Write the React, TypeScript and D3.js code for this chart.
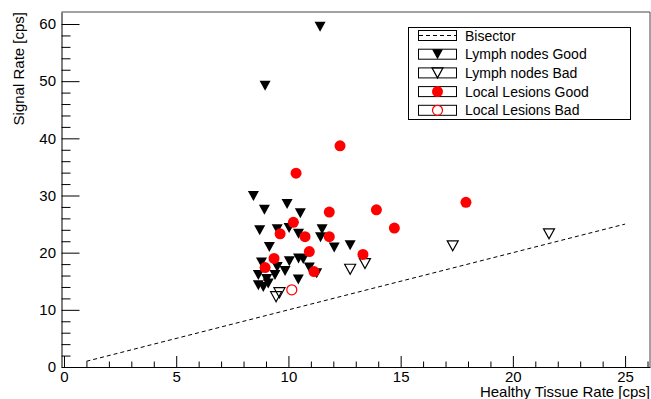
import React, { useEffect, useRef } from 'react';
import * as d3 from 'd3';

// Lymph nodes Good (filled down triangles)
const lymphGoodX = [11.41, 8.96, 8.44, 8.93, 9.94, 10.53, 8.72, 9.5, 10.03, 10.45, 11.5, 11.43, 12.04, 12.75, 9.15,
  10.04, 10.45, 10.66, 8.8, 9.5, 9.85, 10.93, 11.26, 8.66, 9.4, 9.03, 8.66, 9.1, 8.88, 10.44];
const lymphGoodY = [59.5, 49.2, 29.9, 27.5, 28.5, 26.9, 23.9, 24.1, 24.3, 23.3, 24.1, 22.7, 20.9, 21.3, 21.0,
  18.5, 19.0, 18.9, 18.3, 17.5, 16.8, 17.4, 16.4, 16.1, 16.1, 15.4, 14.3, 14.6, 14.0, 15.3];

// Lymph nodes Bad (open down triangles)
const lymphBadX = [9.45, 9.6, 12.75, 13.41, 17.32, 21.61];
const lymphBadY = [12.3, 13.0, 17.1, 18.1, 21.2, 23.3];

// Local Lesions Good (filled red circles)
const lesionGoodX = [12.3, 10.34, 11.82, 13.92, 14.72, 17.91, 10.22, 9.63, 10.74, 11.82, 10.93, 13.32, 9.36, 8.96, 11.14];
const lesionGoodY = [38.7, 33.9, 27.1, 27.5, 24.3, 28.8, 25.3, 23.3, 22.8, 22.8, 20.2, 19.7, 19.0, 17.4, 16.7];

// Local Lesions Bad (open red circles)
const lesionBadX = [10.15];
const lesionBadY = [13.5];

// Bisector
const bisectorX = [1, 25];
const bisectorY = [1, 25];

const xMajor = [0, 5, 10, 15, 20, 25];
const yMajor = [0, 10, 20, 30, 40, 50, 60];

const legendLabels = ['Bisector', 'Lymph nodes Good', 'Lymph nodes Bad', 'Local Lesions Good', 'Local Lesions Bad'];

const W = 651;
const H = 399;
const FONT = '"Liberation Sans", Arial, Helvetica, sans-serif';

const trianglePath = (cx, cy) => {
  const hw = 5.5, h = 5;
  return `M${cx - hw},${cy - h}L${cx + hw},${cy - h}L${cx},${cy + h}Z`;
};

const App = () => {
  const svgRef = useRef(null);

  useEffect(() => {
    const svg = d3.select(svgRef.current);
    svg.selectAll('*').remove();

    const left = 61.5, right = 650, top = 12, bottom = 367;
    const x = d3.scaleLinear().domain([-0.111, 26.11]).range([left, right]);
    const y = d3.scaleLinear().domain([0, 62.1]).range([bottom, top]);

    svg.append('rect').attr('width', W).attr('height', H).attr('fill', '#fff');

    // frame top / right
    svg.append('path')
      .attr('d', `M${left},${top}H${right}V${bottom}`)
      .attr('fill', 'none')
      .attr('stroke', '#444')
      .attr('stroke-width', 1);

    // minor ticks
    const xMinor = d3.range(0, 27, 1).filter((v) => v % 5 !== 0);
    const yMinor = d3.range(0, 62, 2).filter((v) => v % 10 !== 0);

    svg.append('g')
      .attr('transform', `translate(0,${bottom})`)
      .call(d3.axisBottom(x).tickValues(xMinor).tickSize(-5.5).tickSizeOuter(0).tickFormat(() => ''))
      .call((g) => g.select('.domain').remove());

    svg.append('g')
      .attr('transform', `translate(${left},0)`)
      .call(d3.axisLeft(y).tickValues(yMinor).tickSize(-9).tickSizeOuter(0).tickFormat(() => ''))
      .call((g) => g.select('.domain').remove());

    const xAxis = svg.append('g')
      .attr('transform', `translate(0,${bottom})`)
      .call(d3.axisBottom(x).tickValues(xMajor).tickSize(-11).tickSizeOuter(0).tickPadding(4.5));

    const yAxis = svg.append('g')
      .attr('transform', `translate(${left},0)`)
      .call(d3.axisLeft(y).tickValues(yMajor).tickSize(-18).tickSizeOuter(0).tickPadding(5.5));

    [xAxis, yAxis].forEach((g) => {
      g.attr('font-family', FONT).attr('font-size', 15);
      g.selectAll('text').attr('fill', '#000');
      g.selectAll('line').attr('stroke', '#000');
      g.select('.domain').attr('stroke', '#000');
    });

    // axis titles
    svg.append('text')
      .attr('x', right)
      .attr('y', 397)
      .attr('text-anchor', 'end')
      .attr('font-family', FONT)
      .attr('font-size', 15)
      .text('Healthy Tissue Rate [cps]');

    svg.append('text')
      .attr('transform', `translate(24,${top}) rotate(-90)`)
      .attr('text-anchor', 'end')
      .attr('font-family', FONT)
      .attr('font-size', 15)
      .text('Signal Rate [cps]');

    // bisector
    const line = d3.line().x((d) => x(d[0])).y((d) => y(d[1]));
    svg.append('path')
      .datum(d3.zip(bisectorX, bisectorY))
      .attr('d', line)
      .attr('fill', 'none')
      .attr('stroke', '#000')
      .attr('stroke-width', 1)
      .attr('stroke-dasharray', '4,3');

    // Lymph nodes Bad
    svg.append('g').selectAll('path')
      .data(d3.zip(lymphBadX, lymphBadY))
      .join('path')
      .attr('d', (d) => trianglePath(x(d[0]), y(d[1])))
      .attr('fill', 'none')
      .attr('stroke', '#000')
      .attr('stroke-width', 1.2);

    // Lymph nodes Good
    svg.append('g').selectAll('path')
      .data(d3.zip(lymphGoodX, lymphGoodY))
      .join('path')
      .attr('d', (d) => trianglePath(x(d[0]), y(d[1])))
      .attr('fill', '#000');

    // Local Lesions Good
    svg.append('g').selectAll('circle')
      .data(d3.zip(lesionGoodX, lesionGoodY))
      .join('circle')
      .attr('cx', (d) => x(d[0]))
      .attr('cy', (d) => y(d[1]))
      .attr('r', 5.5)
      .attr('fill', '#ff0000');

    // Local Lesions Bad
    svg.append('g').selectAll('circle')
      .data(d3.zip(lesionBadX, lesionBadY))
      .join('circle')
      .attr('cx', (d) => x(d[0]))
      .attr('cy', (d) => y(d[1]))
      .attr('r', 5)
      .attr('fill', 'none')
      .attr('stroke', '#ff0000')
      .attr('stroke-width', 1.2);

    // legend
    const lg = svg.append('g');
    lg.append('rect')
      .attr('x', 408.5).attr('y', 27.5).attr('width', 222).attr('height', 92)
      .attr('fill', '#fff').attr('stroke', '#000').attr('stroke-width', 1);

    const rowY = (i) => 35.5 + i * 18.7;
    legendLabels.forEach((label, i) => {
      const cy = rowY(i);
      lg.append('rect')
        .attr('x', 418.5).attr('y', cy - 5).attr('width', 38).attr('height', 10)
        .attr('fill', '#fff').attr('stroke', '#000').attr('stroke-width', 1);
      const cx = 437.5;
      if (i === 0) {
        lg.append('line')
          .attr('x1', 419).attr('x2', 456).attr('y1', cy).attr('y2', cy)
          .attr('stroke', '#000').attr('stroke-dasharray', '4,3');
      } else if (i === 1) {
        lg.append('path').attr('d', trianglePath(cx, cy)).attr('fill', '#000');
      } else if (i === 2) {
        lg.append('path').attr('d', trianglePath(cx, cy)).attr('fill', 'none').attr('stroke', '#000').attr('stroke-width', 1.2);
      } else if (i === 3) {
        lg.append('circle').attr('cx', cx).attr('cy', cy).attr('r', 5.5).attr('fill', '#ff0000');
      } else {
        lg.append('circle').attr('cx', cx).attr('cy', cy).attr('r', 5).attr('fill', 'none').attr('stroke', '#ff0000').attr('stroke-width', 1.2);
      }
      lg.append('text')
        .attr('x', 465)
        .attr('y', cy + 5)
        .attr('font-family', FONT)
        .attr('font-size', 14)
        .text(label);
    });
  }, []);

  return (
    <svg
      ref={svgRef}
      width={W}
      height={H}
      style={{ position: 'absolute', left: 0, top: 0, display: 'block' }}
    />
  );
};

export default App;
